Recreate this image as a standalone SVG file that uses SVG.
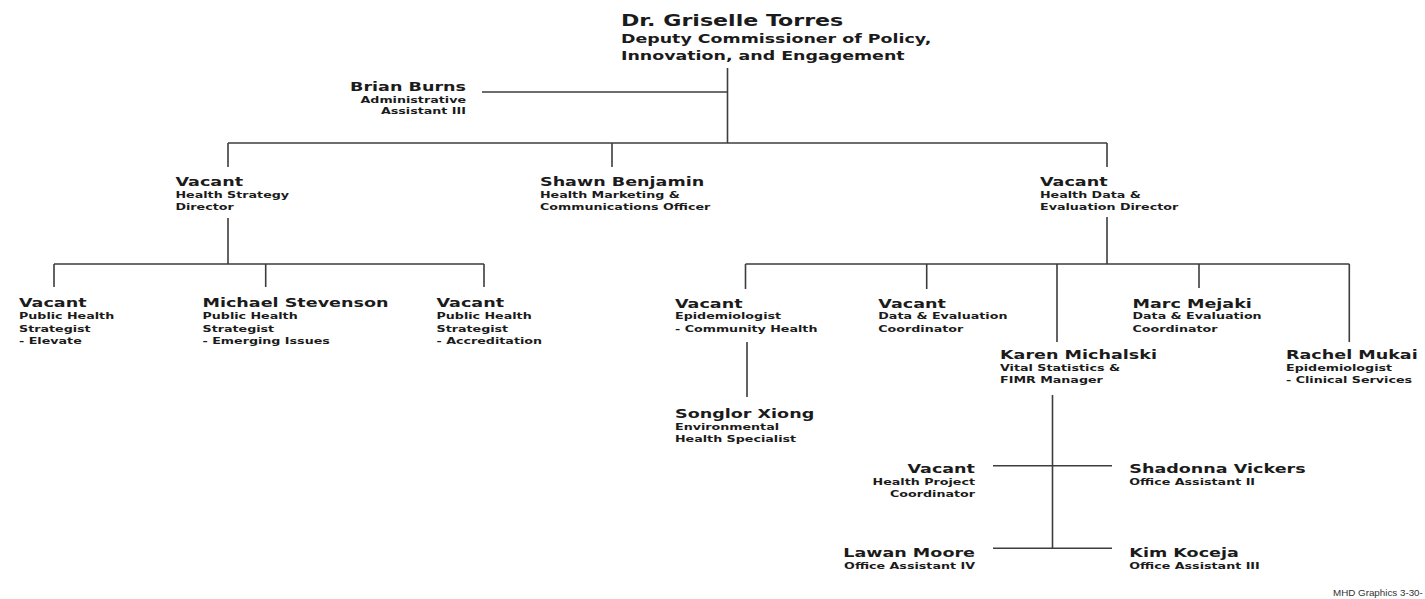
<svg xmlns="http://www.w3.org/2000/svg" width="1425" height="599" viewBox="0 0 1425 599">
<style>
text { font-family: "DejaVu Sans", "Liberation Sans", sans-serif; font-weight: bold; fill: #1b1b1b; }
.t1 { font-size: 16.4px; }
.t2 { font-size: 12.9px; }
.nm { font-size: 13px; }
.sb { font-size: 9.4px; }
.r text { text-anchor: end; }
.ft { font-family: "Liberation Sans", sans-serif; font-weight: normal; font-size: 9.8px; fill: #333; }
#connectors path { stroke: #3d3d3d; stroke-width: 1.6; fill: none; }
</style>
<rect width="1425" height="599" fill="#ffffff"/>
<g id="connectors">
<path d="M727.5 68 V143"/>
<path d="M482 92 H727.5"/>
<path d="M228 143 H1107"/>
<path d="M228 143 V167 M612 143 V167 M1107 143 V167"/>
<path d="M228 218 V264 M54 264 H484 M54 264 V287 M265.7 264 V287 M484 264 V287"/>
<path d="M1107 217 V264 M745.5 264 H1349.3 M745.5 264 V289 M926.7 264 V289 M1057 264 V342 M1199 264 V288 M1349.3 264 V342"/>
<path d="M747 342 V397"/>
<path d="M1052.5 395 V548.3"/>
<path d="M993 465.7 H1112 M993 548.3 H1112"/>
</g>
<g id="n-torres" transform="translate(621,0) scale(1.35,1)">
<text class="t1" y="26.5">Dr. Griselle Torres</text>
<text class="t2" y="43.5">Deputy Commissioner of Policy,</text>
<text class="t2" y="60">Innovation, and Engagement</text>
</g>
<g id="n-burns" class="r" transform="translate(466,0) scale(1.35,1)">
<text class="nm" y="90.7">Brian Burns</text>
<text class="sb" y="103">Administrative</text>
<text class="sb" y="114.5">Assistant III</text>
</g>
<g id="n-health-strategy-director" transform="translate(175.5,0) scale(1.35,1)">
<text class="nm" y="186">Vacant</text>
<text class="sb" y="197.7">Health Strategy</text>
<text class="sb" y="210">Director</text>
</g>
<g id="n-benjamin" transform="translate(540,0) scale(1.35,1)">
<text class="nm" y="186">Shawn Benjamin</text>
<text class="sb" y="197.7">Health Marketing &amp;</text>
<text class="sb" y="210">Communications Officer</text>
</g>
<g id="n-health-data-director" transform="translate(1040,0) scale(1.35,1)">
<text class="nm" y="186">Vacant</text>
<text class="sb" y="197.7">Health Data &amp;</text>
<text class="sb" y="210">Evaluation Director</text>
</g>
<g id="n-strategist-elevate" transform="translate(19,0) scale(1.35,1)">
<text class="nm" y="307.3">Vacant</text>
<text class="sb" y="319.3">Public Health</text>
<text class="sb" y="331.7">Strategist</text>
<text class="sb" y="344">- Elevate</text>
</g>
<g id="n-stevenson" transform="translate(202.5,0) scale(1.35,1)">
<text class="nm" y="307.3">Michael Stevenson</text>
<text class="sb" y="319.3">Public Health</text>
<text class="sb" y="331.7">Strategist</text>
<text class="sb" y="344">- Emerging Issues</text>
</g>
<g id="n-strategist-accreditation" transform="translate(436.5,0) scale(1.35,1)">
<text class="nm" y="307.3">Vacant</text>
<text class="sb" y="319.3">Public Health</text>
<text class="sb" y="331.7">Strategist</text>
<text class="sb" y="344">- Accreditation</text>
</g>
<g id="n-epi-community" transform="translate(675,0) scale(1.35,1)">
<text class="nm" y="307.7">Vacant</text>
<text class="sb" y="319.3">Epidemiologist</text>
<text class="sb" y="332">- Community Health</text>
</g>
<g id="n-de-coordinator-vacant" transform="translate(878.3,0) scale(1.35,1)">
<text class="nm" y="307.7">Vacant</text>
<text class="sb" y="319.3">Data &amp; Evaluation</text>
<text class="sb" y="332">Coordinator</text>
</g>
<g id="n-mejaki" transform="translate(1132.5,0) scale(1.35,1)">
<text class="nm" y="307.7">Marc Mejaki</text>
<text class="sb" y="319.3">Data &amp; Evaluation</text>
<text class="sb" y="332">Coordinator</text>
</g>
<g id="n-michalski" transform="translate(1000,0) scale(1.35,1)">
<text class="nm" y="359">Karen Michalski</text>
<text class="sb" y="370.7">Vital Statistics &amp;</text>
<text class="sb" y="383">FIMR Manager</text>
</g>
<g id="n-mukai" transform="translate(1286,0) scale(1.35,1)">
<text class="nm" y="359">Rachel Mukai</text>
<text class="sb" y="370.7">Epidemiologist</text>
<text class="sb" y="383">- Clinical Services</text>
</g>
<g id="n-xiong" transform="translate(675,0) scale(1.35,1)">
<text class="nm" y="418.3">Songlor Xiong</text>
<text class="sb" y="430">Environmental</text>
<text class="sb" y="442.3">Health Specialist</text>
</g>
<g id="n-project-coordinator" class="r" transform="translate(975,0) scale(1.35,1)">
<text class="nm" y="473.3">Vacant</text>
<text class="sb" y="485.3">Health Project</text>
<text class="sb" y="497.5">Coordinator</text>
</g>
<g id="n-vickers" transform="translate(1129.3,0) scale(1.35,1)">
<text class="nm" y="473.3">Shadonna Vickers</text>
<text class="sb" y="485.3">Office Assistant II</text>
</g>
<g id="n-moore" class="r" transform="translate(975,0) scale(1.35,1)">
<text class="nm" y="557.3">Lawan Moore</text>
<text class="sb" y="569.5">Office Assistant IV</text>
</g>
<g id="n-koceja" transform="translate(1129.3,0) scale(1.35,1)">
<text class="nm" y="557.3">Kim Koceja</text>
<text class="sb" y="569.5">Office Assistant III</text>
</g>
<text class="ft" x="1333" y="596">MHD Graphics 3-30-</text>
</svg>
